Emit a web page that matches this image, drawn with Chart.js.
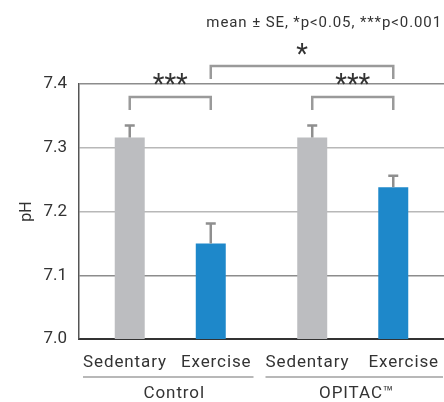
<!DOCTYPE html>
<html>
<head>
<meta charset="utf-8">
<script src="https://cdn.jsdelivr.net/npm/chart.js@4"></script>
<style>
  html, body { margin: 0; padding: 0; background: #fff; }
  #wrap { width: 444px; height: 402px; position: relative; }
</style>
</head>
<body>
<div id="wrap"><canvas id="c" width="444" height="402"></canvas></div>
<script>
const groups = ['Control', 'OPITAC\u2122'];
const conditions = ['Sedentary', 'Exercise'];
const sedentaryMean = [7.316, 7.316];
const exerciseMean = [7.150, 7.238];
const sedentarySE = [0.019, 0.019];
const exerciseSE = [0.031, 0.018];
const yTicks = [7.0, 7.1, 7.2, 7.3, 7.4];
const caption = 'mean \u00b1 SE, *p<0.05, ***p<0.001';
// [groupIndex, conditionIndex]
const comparisons = [
  { from: [0, 0], to: [0, 1], label: '***', level: 0 },
  { from: [1, 0], to: [1, 1], label: '***', level: 0 },
  { from: [0, 1], to: [1, 1], label: '*', level: 1 }
];

const FONT = 'Roboto, "Liberation Sans", sans-serif';
const GRAY_LINE = '#8f8f8f';
const TEXT = '#333333';

const overlay = {
  id: 'overlay',
  afterDatasetsDraw(chart) {
    const ctx = chart.ctx;
    const y = chart.scales.y;
    const x = chart.scales.x;
    const area = chart.chartArea;
    const seArr = [sedentarySE, exerciseSE];
    const meanArr = [sedentaryMean, exerciseMean];
    ctx.save();
    // error bars
    ctx.strokeStyle = GRAY_LINE;
    ctx.lineWidth = 2.5;
    for (let d = 0; d < 2; d++) {
      const meta = chart.getDatasetMeta(d);
      meta.data.forEach((bar, i) => {
        const top = y.getPixelForValue(meanArr[d][i] + seArr[d][i]);
        const base = y.getPixelForValue(meanArr[d][i]);
        ctx.beginPath();
        ctx.moveTo(bar.x, base);
        ctx.lineTo(bar.x, top);
        ctx.moveTo(bar.x - 5, top);
        ctx.lineTo(bar.x + 5, top);
        ctx.stroke();
      });
    }
    // brackets
    comparisons.forEach(c => {
      const x1 = chart.getDatasetMeta(c.from[1]).data[c.from[0]].x;
      const x2 = chart.getDatasetMeta(c.to[1]).data[c.to[0]].x;
      let topY, legY, starY;
      if (c.level === 0) { topY = area.top + 13; legY = area.top + 26; starY = area.top - 4; }
      else { topY = area.top - 18; legY = area.top - 5; starY = area.top - 34; }
      ctx.strokeStyle = '#9a9a9a';
      ctx.lineWidth = 2.5;
      ctx.beginPath();
      ctx.moveTo(x1, legY);
      ctx.lineTo(x1, topY);
      ctx.lineTo(x2, topY);
      ctx.lineTo(x2, legY);
      ctx.stroke();
      ctx.fillStyle = TEXT;
      ctx.font = '27px ' + FONT;
      ctx.letterSpacing = '0px';
      ctx.textAlign = 'center';
      ctx.textBaseline = 'middle';
      ctx.fillText(c.label, (x1 + x2) / 2, starY + 6);
    });
    // caption
    ctx.fillStyle = TEXT;
    ctx.font = '15px ' + FONT;
    ctx.letterSpacing = '0.9px';
    ctx.textAlign = 'right';
    ctx.textBaseline = 'middle';
    ctx.fillText(caption, 442, 23);
    // x labels
    ctx.font = '17px ' + FONT;
    ctx.letterSpacing = '0.9px';
    ctx.textBaseline = 'alphabetic';
    groups.forEach((g, i) => {
      const cx = x.getPixelForValue(i);
      const half = (x.getPixelForValue(1) - x.getPixelForValue(0)) / 2;
      const last = i === groups.length - 1;
      const left = cx - half + 4;
      const right = last ? Math.min(cx + half, chart.width) - 1 : cx + half - 8;
      ctx.strokeStyle = '#a0a0a0';
      ctx.lineWidth = 1.5;
      ctx.beginPath();
      ctx.moveTo(left, area.bottom + 38);
      ctx.lineTo(right, area.bottom + 38);
      ctx.stroke();
      ctx.fillStyle = TEXT;
      ctx.textAlign = 'left';
      ctx.fillText(conditions[0], left, area.bottom + 28);
      ctx.textAlign = 'right';
      ctx.fillText(conditions[1], right - (last ? 4 : 2), area.bottom + 28);
      ctx.textAlign = 'center';
      ctx.fillText(g, (cx - half + 4 + (last ? cx + half - 8 : right)) / 2 + 6, area.bottom + 59);
    });
    ctx.restore();
  }
};

new Chart(document.getElementById('c'), {
  type: 'bar',
  data: {
    labels: groups,
    datasets: [
      { label: conditions[0], data: sedentaryMean, backgroundColor: '#bcbdc0' },
      { label: conditions[1], data: exerciseMean, backgroundColor: '#1e88ca' }
    ]
  },
  options: {
    responsive: false,
    animation: false,
    devicePixelRatio: 1,
    layout: { padding: { top: 84, right: 0, bottom: 63, left: 0 } },
    datasets: { bar: { categoryPercentage: 0.888, barPercentage: 0.37 } },
    plugins: { legend: { display: false }, tooltip: { enabled: false } },
    scales: {
      x: {
        ticks: { display: false },
        grid: { display: false, drawTicks: false },
        border: { display: true, color: '#333', width: 2 }
      },
      y: {
        min: 7.0,
        max: 7.4,
        afterFit(scale) { scale.width = 79; },
        afterBuildTicks(scale) { scale.ticks = yTicks.map(v => ({ value: v })); },
        ticks: {
          padding: 12,
          color: TEXT,
          font: { family: FONT, size: 17 },
          callback: v => v.toFixed(1)
        },
        grid: {
          drawTicks: false,
          color: ctx => (ctx.tick && (ctx.tick.value === 7.4 || Math.abs(ctx.tick.value - 7.1) < 1e-6)) ? '#8c8c8c' : '#b8b8b8',
          lineWidth: 1.5
        },
        border: { display: true, color: '#555', width: 1.5 },
        title: {
          display: true,
          text: 'pH',
          color: TEXT,
          font: { family: FONT, size: 16 },
          padding: { top: 17, bottom: 0 }
        }
      }
    }
  },
  plugins: [overlay]
});
</script>
</body>
</html>
